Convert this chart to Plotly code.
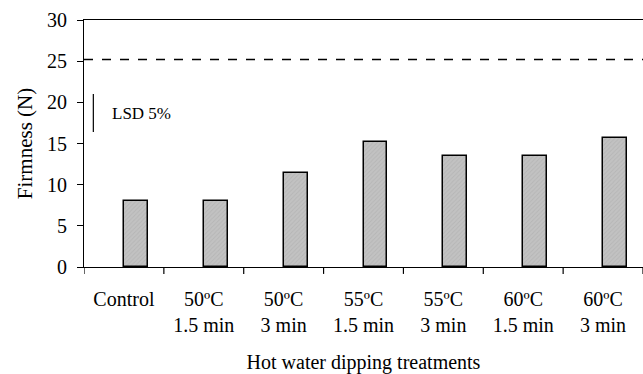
import plotly.graph_objects as go

categories = ["Control", "50ºC<br>1.5 min", "50ºC<br>3 min", "55ºC<br>1.5 min",
              "55ºC<br>3 min", "60ºC<br>1.5 min", "60ºC<br>3 min"]
firmness = [8.0, 8.0, 11.4, 15.2, 13.5, 13.5, 15.7]
reference_level = 25.2
lsd_low, lsd_high = 16.4, 21.0
y_ticks = [0, 5, 10, 15, 20, 25, 30]

FONT = "Liberation Serif"

fig = go.Figure()
fig.add_trace(go.Bar(
    x=list(range(len(categories))), y=firmness,
    width=0.3, offset=0.0,
    marker=dict(color="#c2c2c2", line=dict(color="black", width=1.5),
                pattern=dict(shape="/", fgcolor="#a9a9a9", size=3, solidity=0.3)),
    showlegend=False,
))

fig.add_shape(type="line", xref="paper", yref="y", x0=0, x1=1,
              y0=reference_level, y1=reference_level,
              line=dict(color="black", width=1.3, dash="dash"))
fig.add_shape(type="line", xref="paper", yref="y", x0=0.0167, x1=0.0167,
              y0=lsd_low, y1=lsd_high, line=dict(color="black", width=1.2))
fig.add_annotation(text="LSD 5%", xref="paper", yref="y", x=0.046, y=(lsd_low + lsd_high) / 2,
                   xanchor="left", yanchor="middle", showarrow=False,
                   font=dict(family=FONT, size=17, color="black"))

fig.update_layout(
    width=643, height=374,
    margin=dict(l=84, r=0, t=20, b=107),
    paper_bgcolor="white", plot_bgcolor="white",
    font=dict(family=FONT, size=20, color="black"),
    bargap=0,
    xaxis=dict(
        range=[-0.5, len(categories) - 0.5],
        tickmode="array", tickvals=list(range(len(categories))), ticktext=categories,
        showline=True, linecolor="black", linewidth=1.2, mirror=True,
        ticks="", showgrid=False, zeroline=False,
        ticklabelstandoff=14,
        title=dict(text="Hot water dipping treatments", standoff=20,
                   font=dict(family=FONT, size=20)),
        tickfont=dict(family=FONT, size=20),
    ),
    yaxis=dict(
        range=[0, 30], tickvals=y_ticks,
        showline=True, linecolor="black", linewidth=1.2,
        ticks="outside", ticklen=6, tickcolor="black", tickwidth=1.2,
        showgrid=False, zeroline=False,
        ticklabelstandoff=6,
        title=dict(text="Firmness (N)", standoff=8, font=dict(family=FONT, size=21)),
        tickfont=dict(family=FONT, size=20),
    ),
)

# category boundary ticks on the x axis
for b in range(len(categories) + 1):
    fig.add_shape(type="line", xref="x", yref="paper", x0=b - 0.5, x1=b - 0.5,
                  y0=0, y1=-0.028, line=dict(color="black", width=1.2))

fig.write_html("out.html")
